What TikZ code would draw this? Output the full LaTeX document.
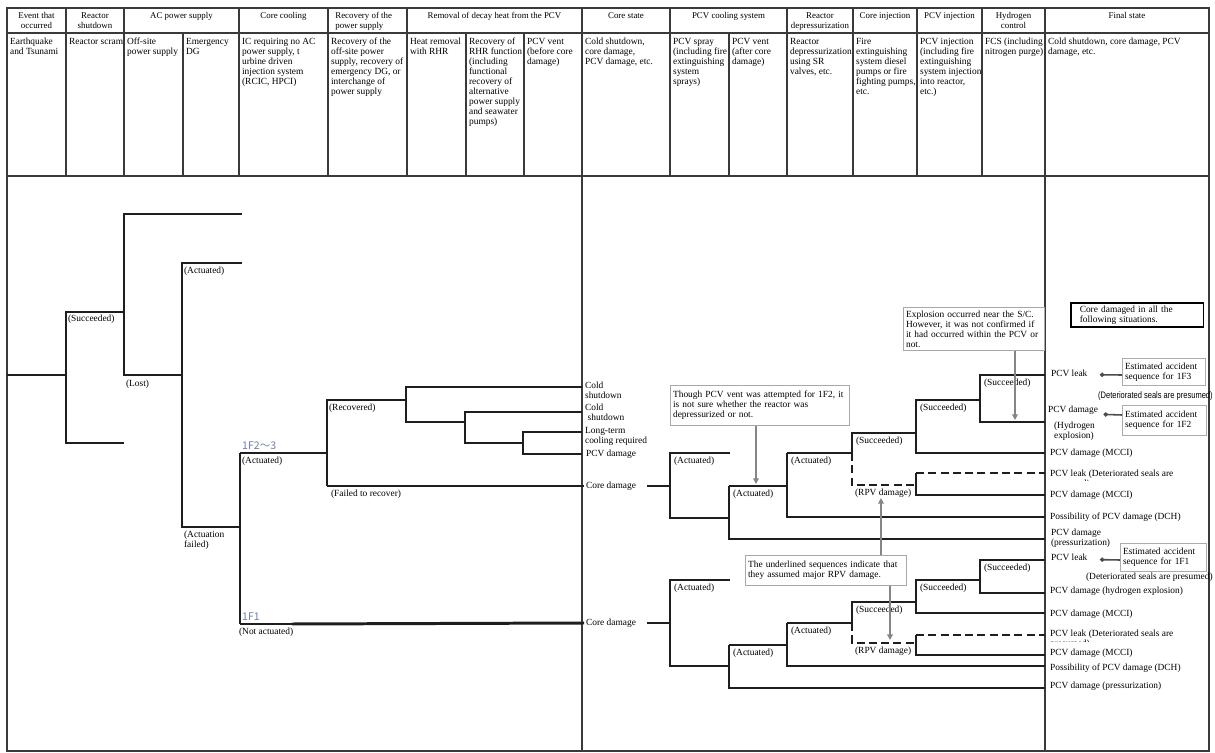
\documentclass[tikz,border=0pt]{standalone}
\usepackage{fontspec}
\setmainfont{Liberation Serif}
\newfontfamily\narrowsans[FakeStretch=0.8]{Liberation Sans}
\newfontfamily\unitfont{Noto Sans CJK JP}
\usetikzlibrary{arrows.meta}
\definecolor{gridline}{HTML}{3A3A3A}
\definecolor{treeline}{HTML}{1E1E1E}
\definecolor{noteframe}{HTML}{A8A8A8}
\definecolor{pointergray}{HTML}{858585}
\definecolor{unitblue}{HTML}{6C7DA6}
\newcommand{\tfont}{\fontsize{5.35}{5.7}\selectfont}
\newcommand{\hfont}{\fontsize{5.05}{5.7}\selectfont}

\tikzset{
  grid/.style={gridline, line width=0.6pt},
  seq/.style={treeline, line width=0.65pt},
  accpath/.style={treeline, line width=1.7pt},
  rpv/.style={seq, dash pattern=on 4.5pt off 2.5pt},
  coltitle/.style={font=\hfont, align=center, anchor=north, inner sep=0pt},
  desc/.style={font=\tfont, align=left, anchor=north west, inner sep=1pt},
  brlbl/.style={font=\tfont, align=left, anchor=north west, inner sep=1pt},
  unit/.style={font=\unitfont\fontsize{6}{6}\selectfont, text=unitblue, anchor=south west, inner sep=0.5pt},
  endst/.style={font=\tfont, align=left, anchor=west, inner sep=1pt},
  notebox/.style={draw=noteframe, line width=0.5pt, fill=white, font=\tfont, align=left, anchor=north west, inner xsep=1.5pt, inner ysep=1.5pt},
  estbox/.style={notebox, draw=gray!65},
  ptr/.style={pointergray, line width=0.8pt, -{Triangle[length=3.2pt,width=3.2pt]}},
  estlink/.style={black!70, line width=0.9pt, {Circle[length=2.4pt]}-}
}

\begin{document}
\begin{tikzpicture}[x=0.02cm, y=-0.02cm]
  \useasboundingbox (0,0) rectangle (1215,753);

  % Table frame and column rules
  \draw[grid] (7,8) rectangle (1209,751);
  \foreach \y in {33,176} \draw[grid] (7,\y) -- (1209,\y);
  \foreach \x in {582,1045} \draw[grid] (\x,8) -- (\x,751);
  \foreach \x in {66,124,239,328,407,670,787,853,917,982} \draw[grid] (\x,8) -- (\x,176);
  \foreach \x in {183,466,524,729} \draw[grid] (\x,33) -- (\x,176);

  % Column titles
  \foreach \x/\t in {36.5/{Event that\\occurred}, 95/{Reactor\\shutdown}, 181.5/{AC power supply},
      283.5/{Core cooling}, 494.5/{Removal of decay heat from the PCV}, 626/{Core state},
      728.5/{PCV cooling system}, 820/{Reactor\\depressurization}, 885/{Core injection},
      949.5/{PCV injection}, 1013.5/{Hydrogen\\control}, 1127/{Final state}}
    \node[coltitle] at (\x,12) {\t};
  \node[coltitle, anchor=north west, align=left] at (335,12) {Recovery of the\\power supply};

  % Headings of each branch point
  \foreach \x/\t in {8/{Earthquake\\and Tsunami}, 67/{Reactor scram}, 125/{Off-site\\power supply},
      184/{Emergency\\DG}, 240/{IC requiring no AC\\power supply, t\\urbine driven\\injection system\\(RCIC, HPCI)},
      329/{Recovery of the\\off-site power\\supply, recovery of\\emergency DG, or\\interchange of\\power supply},
      408/{Heat removal\\with RHR},
      467/{Recovery of\\RHR function\\(including\\functional\\recovery of\\alternative\\power supply\\and seawater\\pumps)},
      525/{PCV vent\\(before core\\damage)}, 583/{Cold shutdown,\\core damage,\\PCV damage, etc.},
      671/{PCV spray\\(including fire\\extinguishing\\system\\sprays)}, 730/{PCV vent\\(after core\\damage)},
      788/{Reactor\\depressurization\\using SR\\valves, etc.},
      854/{Fire\\extinguishing\\system diesel\\pumps or fire\\fighting pumps,\\etc.},
      918/{PCV injection\\(including fire\\extinguishing\\system injection\\into reactor,\\etc.)},
      983/{FCS (including\\nitrogen purge)}, 1046/{Cold shutdown, core damage, PCV\\damage, etc.}}
    \node[desc] at (\x,36) {\t};

  % Core state outcomes
  \node[desc] (cs1) at (583,380) {Cold\\shutdown};
  \node[desc] (cs2) at (583,402) {Cold\\\hspace*{1.5pt}shutdown};
  \node[desc] (cs3) at (583,425) {Long-term\\cooling required};
  \node[endst] (cs4) at (584,454) {PCV damage};
  \node[endst] (cdA) at (584,486) {Core damage};
  \node[endst] (cdB) at (584,623) {Core damage};

  % Branches up to the core state
  \draw[seq] (66,312) -- (66,443) -- (124,443);
  \draw[seq] (242,214) -- (124,214) -- (124,312);
  \draw[seq] (242,263) -- (182,263) -- (182,375);
  \draw[seq] (240,453) -- (298,453);
  \draw[seq] (406,400) -- (327,400) -- (327,453);
  \draw[seq] (327,486) -- (413,486);
  \draw[seq] (240,624) -- (292,624);
  \draw[seq] (582,387) -- (406,387) -- (406,422) -- (465,422);
  \draw[seq] (582,412) -- (465,412) -- (465,443) -- (523,443);
  \draw[seq] (582,432) -- (523,432) -- (523,454) -- (582,454);

  \draw[accpath] (7,375) -- (66,375) -- (66,312) -- (124,312) -- (124,375) -- (182,375) -- (182,527) -- (240,527);
  \draw[accpath] (240,453) -- (240,624);
  \draw[accpath] (298,453) -- (327,453) -- (327,486);
  \draw[accpath] (413,486) -- (cdA.west);
  \draw[accpath] (292,624) -- (cdB.west);

  \node[brlbl] at (66,313) {(Succeeded)};
  \node[brlbl] at (124,378) {(Lost)};
  \node[brlbl] at (182,265) {(Actuated)};
  \node[brlbl] at (182,529) {(Actuation\\failed)};
  \node[unit] at (241,451) {1F2～3};
  \node[brlbl] at (240,455) {(Actuated)};
  \node[unit] at (241,622) {1F1};
  \node[brlbl] at (237,626) {(Not actuated)};
  \node[brlbl] at (327,402) {(Recovered)};
  \node[brlbl] at (329,488) {(Failed to recover)};

  % Upper core damage tree (1F2, 1F3)
  \draw[seq] (730,453) -- (670,453) -- (670,486);
  \draw[seq] (729,518) -- (729,539) -- (1045,539);
  \draw[seq] (729,486) -- (787,486) -- (787,517) -- (1045,517);
  \draw[seq] (787,453) -- (852,453);
  \draw[rpv] (852,453) -- (852,485) -- (916,485);
  \draw[seq] (916,433) -- (916,453) -- (1045,453);
  \draw[seq] (916,473) -- (916,495) -- (1045,495);
  \draw[rpv] (916,473) -- (1045,473);
  \draw[accpath] ([xshift=5pt]cdA.east) -- (670,486) -- (670,518) -- (729,518) -- (729,486);
  \draw[accpath] (787,486) -- (787,453);
  \draw[accpath] (852,453) -- (852,433) -- (916,433) -- (916,400) -- (980,400);
  \draw[accpath] (1045,375) -- (980,375) -- (980,422) -- (1045,422);

  \node[brlbl] at (672,455) {(Actuated)};
  \node[brlbl] at (731,488) {(Actuated)};
  \node[brlbl] at (789,455) {(Actuated)};
  \node[brlbl] at (854,435) {(Succeeded)};
  \node[brlbl] at (853,487) {(RPV damage)};
  \node[brlbl] at (918,402) {(Succeeded)};
  \node[brlbl] at (982,377) {(Succeeded)};

  % Lower core damage tree (1F1)
  \draw[seq] (730,580) -- (670,580) -- (670,623);
  \draw[seq] (729,666) -- (729,688) -- (1045,688);
  \draw[seq] (729,645) -- (787,645) -- (787,666) -- (1045,666);
  \draw[seq] (787,623) -- (852,623);
  \draw[rpv] (852,623) -- (852,643) -- (916,643);
  \draw[seq] (916,602) -- (916,613) -- (1045,613);
  \draw[seq] (916,635) -- (916,655) -- (1045,655);
  \draw[rpv] (916,635) -- (1045,635);
  \draw[seq] (980,580) -- (980,593) -- (1045,593);
  \draw[accpath] ([xshift=5pt]cdB.east) -- (670,623) -- (670,666) -- (729,666) -- (729,645);
  \draw[accpath] (787,645) -- (787,623);
  \draw[accpath] (852,623) -- (852,602) -- (916,602) -- (916,580) -- (980,580) -- (980,560) -- (1045,560);

  \node[brlbl] at (672,582) {(Actuated)};
  \node[brlbl] at (731,647) {(Actuated)};
  \node[brlbl] at (789,625) {(Actuated)};
  \node[brlbl] at (854,604) {(Succeeded)};
  \node[brlbl] at (853,645) {(RPV damage)};
  \node[brlbl] at (918,582) {(Succeeded)};
  \node[brlbl] at (982,562) {(Succeeded)};

  % Final states
  \node[endst] (leakA) at (1049,373) {PCV leak};
  \node[endst] (h2A) at (1046,410) {PCV damage};
  \node[desc] at (1052,420) {(Hydrogen\\explosion)};
  \node[endst] at (1048,453) {PCV damage (MCCI)};
  \begin{scope}
    \clip (1046,466) rectangle (1209,481);
    \node[desc] at (1048,468) {PCV leak (Deteriorated seals are\\presumed)};
  \end{scope}
  \node[endst] at (1048,495) {PCV damage (MCCI)};
  \node[endst] at (1048,517) {Possibility of PCV damage (DCH)};
  \node[desc] at (1049,527) {PCV damage\\(pressurization)};
  \node[endst] (leakB) at (1049,557) {PCV leak};
  \node[endst] at (1048,591) {PCV damage (hydrogen explosion)};
  \node[endst] at (1048,614) {PCV damage (MCCI)};
  \begin{scope}
    \clip (1046,626) rectangle (1209,641);
    \node[desc] at (1048,628) {PCV leak (Deteriorated seals are\\presumed)};
  \end{scope}
  \node[endst] at (1048,653) {PCV damage (MCCI)};
  \node[endst] at (1048,668) {Possibility of PCV damage (DCH)};
  \node[endst] at (1048,686) {PCV damage (pressurization)};

  % Estimated sequences per unit
  \node[notebox, draw=black, line width=1.1pt, inner xsep=5pt, text width=2.3cm, minimum height=0.46cm] (cdall) at (1070,302) {Core damaged in all the\\following situations.};
  \node[estbox, text width=1.55cm, minimum height=0.54cm] (est3) at (1122,358) {Estimated accident\\sequence for 1F3};
  \node[estbox, text width=1.57cm, minimum height=0.6cm] (est2) at (1122,405) {Estimated accident\\sequence for 1F2};
  \node[estbox, text width=1.61cm, minimum height=0.56cm] (est1) at (1120,543) {Estimated accident\\sequence for 1F1};
  \draw[estlink] ([xshift=6pt,yshift=-1pt]leakA.east) -- (est3.west |- 0,375);
  \draw[estlink] ([xshift=2pt,yshift=-2.5pt]h2A.east) -- (est2.west |- 0,415);
  \draw[estlink] ([xshift=6pt,yshift=-1.5pt]leakB.east) -- (est1.west |- 0,560);
  \node[font=\narrowsans\fontsize{5.35}{5.7}\selectfont, anchor=east, inner sep=0pt] at (1213,396) {(Deteriorated seals are presumed)};
  \node[font=\tfont, anchor=east, inner sep=0pt] at (1213,577) {(Deteriorated seals are presumed)};

  % Notes with pointers
  \node[notebox, text width=3.48cm, minimum height=0.8cm] (noteVent) at (670,385) {Though PCV vent was attempted for 1F2, it\\is not sure whether the reactor was\\depressurized or not.};
  \node[notebox, text width=2.72cm, minimum height=0.86cm] (noteSC) at (903,307) {Explosion occurred near the S/C.\\However, it was not confirmed if\\it had occurred within the PCV or\\not.};
  \node[notebox, text width=3.12cm, minimum height=0.6cm] (noteRPV) at (745,555) {The underlined sequences indicate that\\they assumed major RPV damage.};
  \coordinate (ventTip) at (756,484);
  \coordinate (scTip) at (1015,420);
  \coordinate (rpvUp) at (881,498);
  \coordinate (rpvDown) at (890,640);
  \draw[ptr] (noteVent.south -| ventTip) -- (ventTip);
  \draw[ptr] (noteSC.south -| scTip) -- (scTip);
  \draw[ptr] (noteRPV.north -| rpvUp) -- (rpvUp);
  \draw[ptr] (noteRPV.south -| rpvDown) -- (rpvDown);
\end{tikzpicture}
\end{document}
